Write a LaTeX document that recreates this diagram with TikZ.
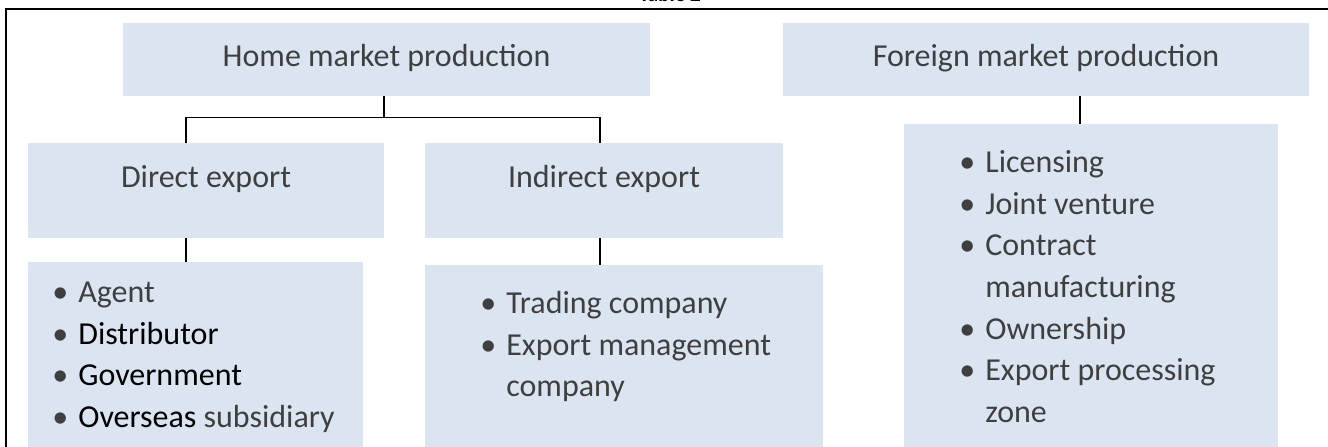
\documentclass[tikz,border=0pt]{standalone}
\usepackage{fontspec}
\setmainfont{Carlito}
\usepackage{tikz}
\usetikzlibrary{positioning}

\definecolor{boxblue}{HTML}{DBE5F1}
\definecolor{txtgray}{HTML}{3F3F3F}

% one bullet row, and a row that goes on without a bullet
\newcommand{\itm}[1]{\textbullet & #1\\}
\newcommand{\cnt}[1]{ & #1\\}

\begin{document}
\begin{tikzpicture}
\useasboundingbox (0,0) rectangle (26.56,-8.92);

\tikzstyle{blk}=[rectangle, fill=boxblue, inner sep=0pt, text=txtgray,
    font=\fontsize{18.2}{23.7}\selectfont, text height=12pt, text depth=3.6pt]
\tikzstyle{blkup}=[blk, text depth=15.6pt]
\tikzstyle{lst}=[anchor=north west, inner sep=0pt, text=txtgray,
    font=\fontsize{18.2}{23.7}\selectfont]
\tikzstyle{link}=[draw=black, line width=0.85pt]

% frame and caption
\node[font=\bfseries\fontsize{12}{14}\selectfont, anchor=base] (cap) at (13.4,-0.03) {Table 2};
\draw[line width=1.4pt] (0.1,-0.18) -- (26.7,-0.18);
\draw[line width=0.8pt] (0.12,-0.18) -- (0.12,-9.1);

% top row
\node[blk, minimum width = 10.54cm,
    minimum height = 1.46cm] (hm) at (7.73,-1.19) {Home market production};
\node[blk, minimum width = 10.52cm,
    minimum height = 1.46cm] (fm) at (20.92,-1.19) {Foreign market production};

% export boxes
\node[blkup, minimum width = 7.12cm,
    minimum height = 1.9cm] (de) at (4.12,-3.81) {Direct export};
\node[blkup, minimum width = 7.16cm,
    minimum height = 1.9cm] (ie) at (12.08,-3.81) {Indirect export};

% list boxes
\node[blk, minimum width = 6.7cm,
    minimum height = 3.96cm] (dl) at (3.91,-7.22) {};
\node[blk, minimum width = 7.96cm,
    minimum height = 3.9cm] (il) at (12.48,-7.25) {};
\node[blk, minimum width = 7.48cm,
    minimum height = 6.72cm] (fl) at (21.82,-5.84) {};

\node[lst] (dt) at (1.04,-5.46) {\begin{tabular}{@{}p{0.52cm}@{}l@{}}
    \itm{Agent}
    \itm{\color{black}Distributor}
    \itm{\color{black}Government}
    \itm{{\color{black}Overseas} subsidiary}
  \end{tabular}};
\node[lst] (it) at (9.6,-5.68) {\begin{tabular}{@{}p{0.52cm}@{}l@{}}
    \itm{Trading company}
    \itm{Export management}
    \cnt{company}
  \end{tabular}};
\node[lst] (ft) at (19.18,-2.86) {\begin{tabular}{@{}p{0.52cm}@{}l@{}}
    \itm{Licensing}
    \itm{Joint venture}
    \itm{Contract}
    \cnt{manufacturing}
    \itm{Ownership}
    \itm{Export processing}
    \cnt{zone}
  \end{tabular}};

% connectors
\draw[link] ([xshift=-0.05cm]hm.south) -- ++(0,-0.42) coordinate (c1);
\draw[link] ([xshift=-0.4cm]de.north) |- (c1) -| ([xshift=-0.08cm]ie.north);
\draw[link] ([xshift=-0.4cm]de.south) -- ([xshift=-0.4cm]de.south |- dl.north);
\draw[link] ([xshift=-0.08cm]ie.south) -- ([xshift=-0.08cm]ie.south |- il.north);
\draw[link] ([xshift=0.68cm]fm.south) -- ([xshift=0.68cm]fm.south |- fl.north);
\end{tikzpicture}
\end{document}
